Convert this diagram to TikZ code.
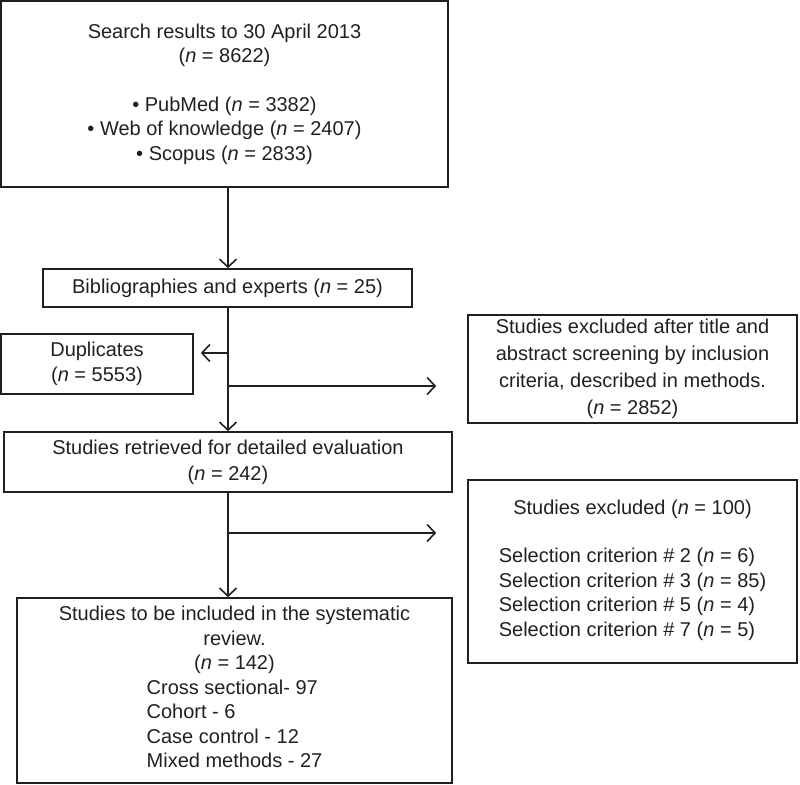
\documentclass[tikz,border=0pt]{standalone}
\usepackage{fontspec}
\setmainfont{Liberation Sans}
\usetikzlibrary{arrows.meta}
\definecolor{ink}{HTML}{231F20}
\newcommand{\nn}{\textit{n}}
\tikzset{
  box/.style={draw=ink, line width=1.6pt, inner sep=0pt, align=center, text=ink,
    font=\fontsize{20}{24.5}\selectfont},
  flow/.style={draw=ink, line width=1.6pt, ->},
}

\begin{document}
\begin{tikzpicture}[x=1pt, y=-1pt, >={Straight Barb[length=8pt,width=17pt]}]
\useasboundingbox (0,0) rectangle (800,784);

\node[box, minimum width=447pt, minimum height=186pt] (search) at (224.5,94)
  {Search results to 30 April 2013\\(\nn{} = 8622)\\[24pt]
   • PubMed (\nn{} = 3382)\\• Web of knowledge (\nn{} = 2407)\\• Scopus (\nn{} = 2833)};
\node[box, minimum width=369pt, minimum height=38pt] (biblio) at (227.5,288)
  {Bibliographies and experts (\nn{} = 25)};
\node[box, minimum width=192pt, minimum height=60pt] (dupl) at (97,364)
  {Duplicates\\(\nn{} = 5553)};
\node[box, minimum width=329pt, minimum height=108pt, font=\fontsize{20}{27}\selectfont] (excl1) at (632.5,369)
  {Studies excluded after title and\\abstract screening by inclusion\\criteria, described in methods.\\(\nn{} = 2852)};
\node[box, minimum width=448pt, minimum height=60pt, font=\fontsize{20}{26}\selectfont] (retrieved) at (228,462)
  {Studies retrieved for detailed evaluation\\(\nn{} = 242)};
\node[box, minimum width=329pt, minimum height=183pt] (excl2) at (632.5,571.5)
  {Studies excluded (\nn{} = 100)\\[24pt]
   \begin{tabular}[t]{@{}l@{}}
   Selection criterion \# 2 (\nn{} = 6)\\
   Selection criterion \# 3 (\nn{} = 85)\\
   Selection criterion \# 5 (\nn{} = 4)\\
   Selection criterion \# 7 (\nn{} = 5)
   \end{tabular}};
\node[box, minimum width=435pt, minimum height=185pt] (included) at (234.5,690.5)
  {Studies to be included in the systematic\\review.\\(\nn{} = 142)\\
   \begin{tabular}[t]{@{}l@{}}
   Cross sectional- 97\\
   Cohort - 6\\
   Case control - 12\\
   Mixed methods - 27
   \end{tabular}};

% main line and side branches
\coordinate (spine) at (228,0);
\coordinate (dupfork) at (228,353);
\coordinate (exfork1) at (228,386);
\coordinate (exfork2) at (228,533);

\draw[flow] (search.south -| spine) -- (biblio.north -| spine);
\draw[flow] (biblio.south -| spine) -- (retrieved.north -| spine);
\draw[flow] (retrieved.south -| spine) -- (included.north -| spine);
\draw[flow, shorten >=7pt] (dupfork) -- (dupfork -| dupl.east);
\draw[flow, shorten >=31pt] (exfork1) -- (exfork1 -| excl1.west);
\draw[flow, shorten >=31pt] (exfork2) -- (exfork2 -| excl2.west);
\end{tikzpicture}
\end{document}
